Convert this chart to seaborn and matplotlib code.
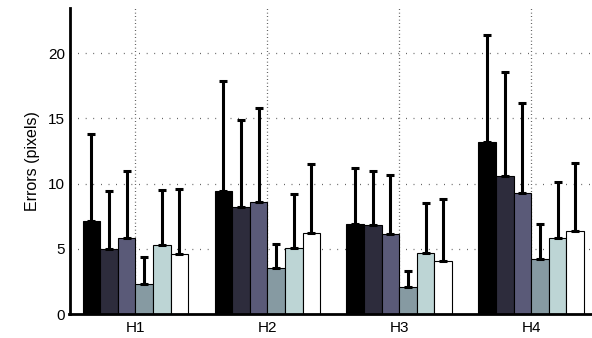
import numpy as np
import pandas as pd
import matplotlib
matplotlib.use("Agg")
import matplotlib.pyplot as plt
import seaborn as sns

# Mean errors per hypothesis (rows: H1..H4, columns: six methods)
groups = ["H1", "H2", "H3", "H4"]
methods = ["M1", "M2", "M3", "M4", "M5", "M6"]
means_h1 = [7.1, 5.0, 5.8, 2.3, 5.3, 4.6]
means_h2 = [9.4, 8.2, 8.6, 3.5, 5.1, 6.2]
means_h3 = [6.9, 6.8, 6.1, 2.1, 4.7, 4.1]
means_h4 = [13.2, 10.6, 9.3, 4.2, 5.8, 6.4]
# Standard deviations (drawn as upper error bars)
std_h1 = [6.7, 4.4, 5.2, 2.1, 4.2, 5.0]
std_h2 = [8.5, 6.7, 7.2, 1.9, 4.1, 5.3]
std_h3 = [4.3, 4.2, 4.6, 1.2, 3.8, 4.7]
std_h4 = [8.2, 8.0, 6.9, 2.7, 4.3, 5.2]

palette = ["#000000", "#2d2c3c", "#5a5a78", "#869aa2", "#bdd5d5", "#ffffff"]

all_means = [means_h1, means_h2, means_h3, means_h4]
all_std = [std_h1, std_h2, std_h3, std_h4]
rows = []
for g, ms, ss in zip(groups, all_means, all_std):
    for m, v, s in zip(methods, ms, ss):
        rows.append({"group": g, "method": m, "value": v, "std": s})
df = pd.DataFrame(rows)

sns.set_theme(style="white")
plt.rcParams["font.family"] = ["Liberation Sans", "DejaVu Sans"]

fig = plt.figure(figsize=(5.92, 3.38), dpi=100)
ax = fig.add_axes([69.5 / 592, 1 - 314 / 338, 527.6 / 592, (314 - 8.3) / 338])

sns.barplot(data=df, x="group", y="value", hue="method", palette=palette,
            errorbar=None, width=0.8, gap=0, edgecolor="black", linewidth=0.8,
            saturation=1, ax=ax, zorder=2)
ax.get_legend().remove()

# upper-only error bars placed on each bar
for cont, m in zip(ax.containers, methods):
    sub = df[df["method"] == m]
    xs = [p.get_x() + p.get_width() / 2 for p in cont.patches]
    ys = sub["value"].to_numpy()
    err = sub["std"].to_numpy()
    ax.errorbar(xs, ys, yerr=[np.zeros_like(err), err], fmt="none",
                ecolor="black", elinewidth=2.2, capsize=3.2, capthick=2.2,
                zorder=3)

ax.set_xlim(-0.5, 3.5)
ax.set_ylim(0, 23.45)
ax.set_yticks([0, 5, 10, 15, 20])
ax.set_xlabel("")
ax.set_ylabel("Errors (pixels)", fontsize=11.5, color="black", labelpad=6)
ax.tick_params(axis="both", length=0, labelsize=11, colors="black")
ax.tick_params(axis="y", pad=3)
ax.tick_params(axis="x", pad=5)

for y in [5, 10, 15, 20]:
    ax.axhline(y, color="#333333", linestyle=(0, (0.6, 5.5)), linewidth=0.9, zorder=0)
for x in range(len(groups)):
    ax.axvline(x, color="#333333", linestyle=(0, (0.6, 2.2)), linewidth=0.9, zorder=0)

for side in ["top", "right"]:
    ax.spines[side].set_visible(False)
for side in ["left", "bottom"]:
    ax.spines[side].set_color("black")
    ax.spines[side].set_linewidth(2.0)

fig.savefig("out.png", dpi=100)
